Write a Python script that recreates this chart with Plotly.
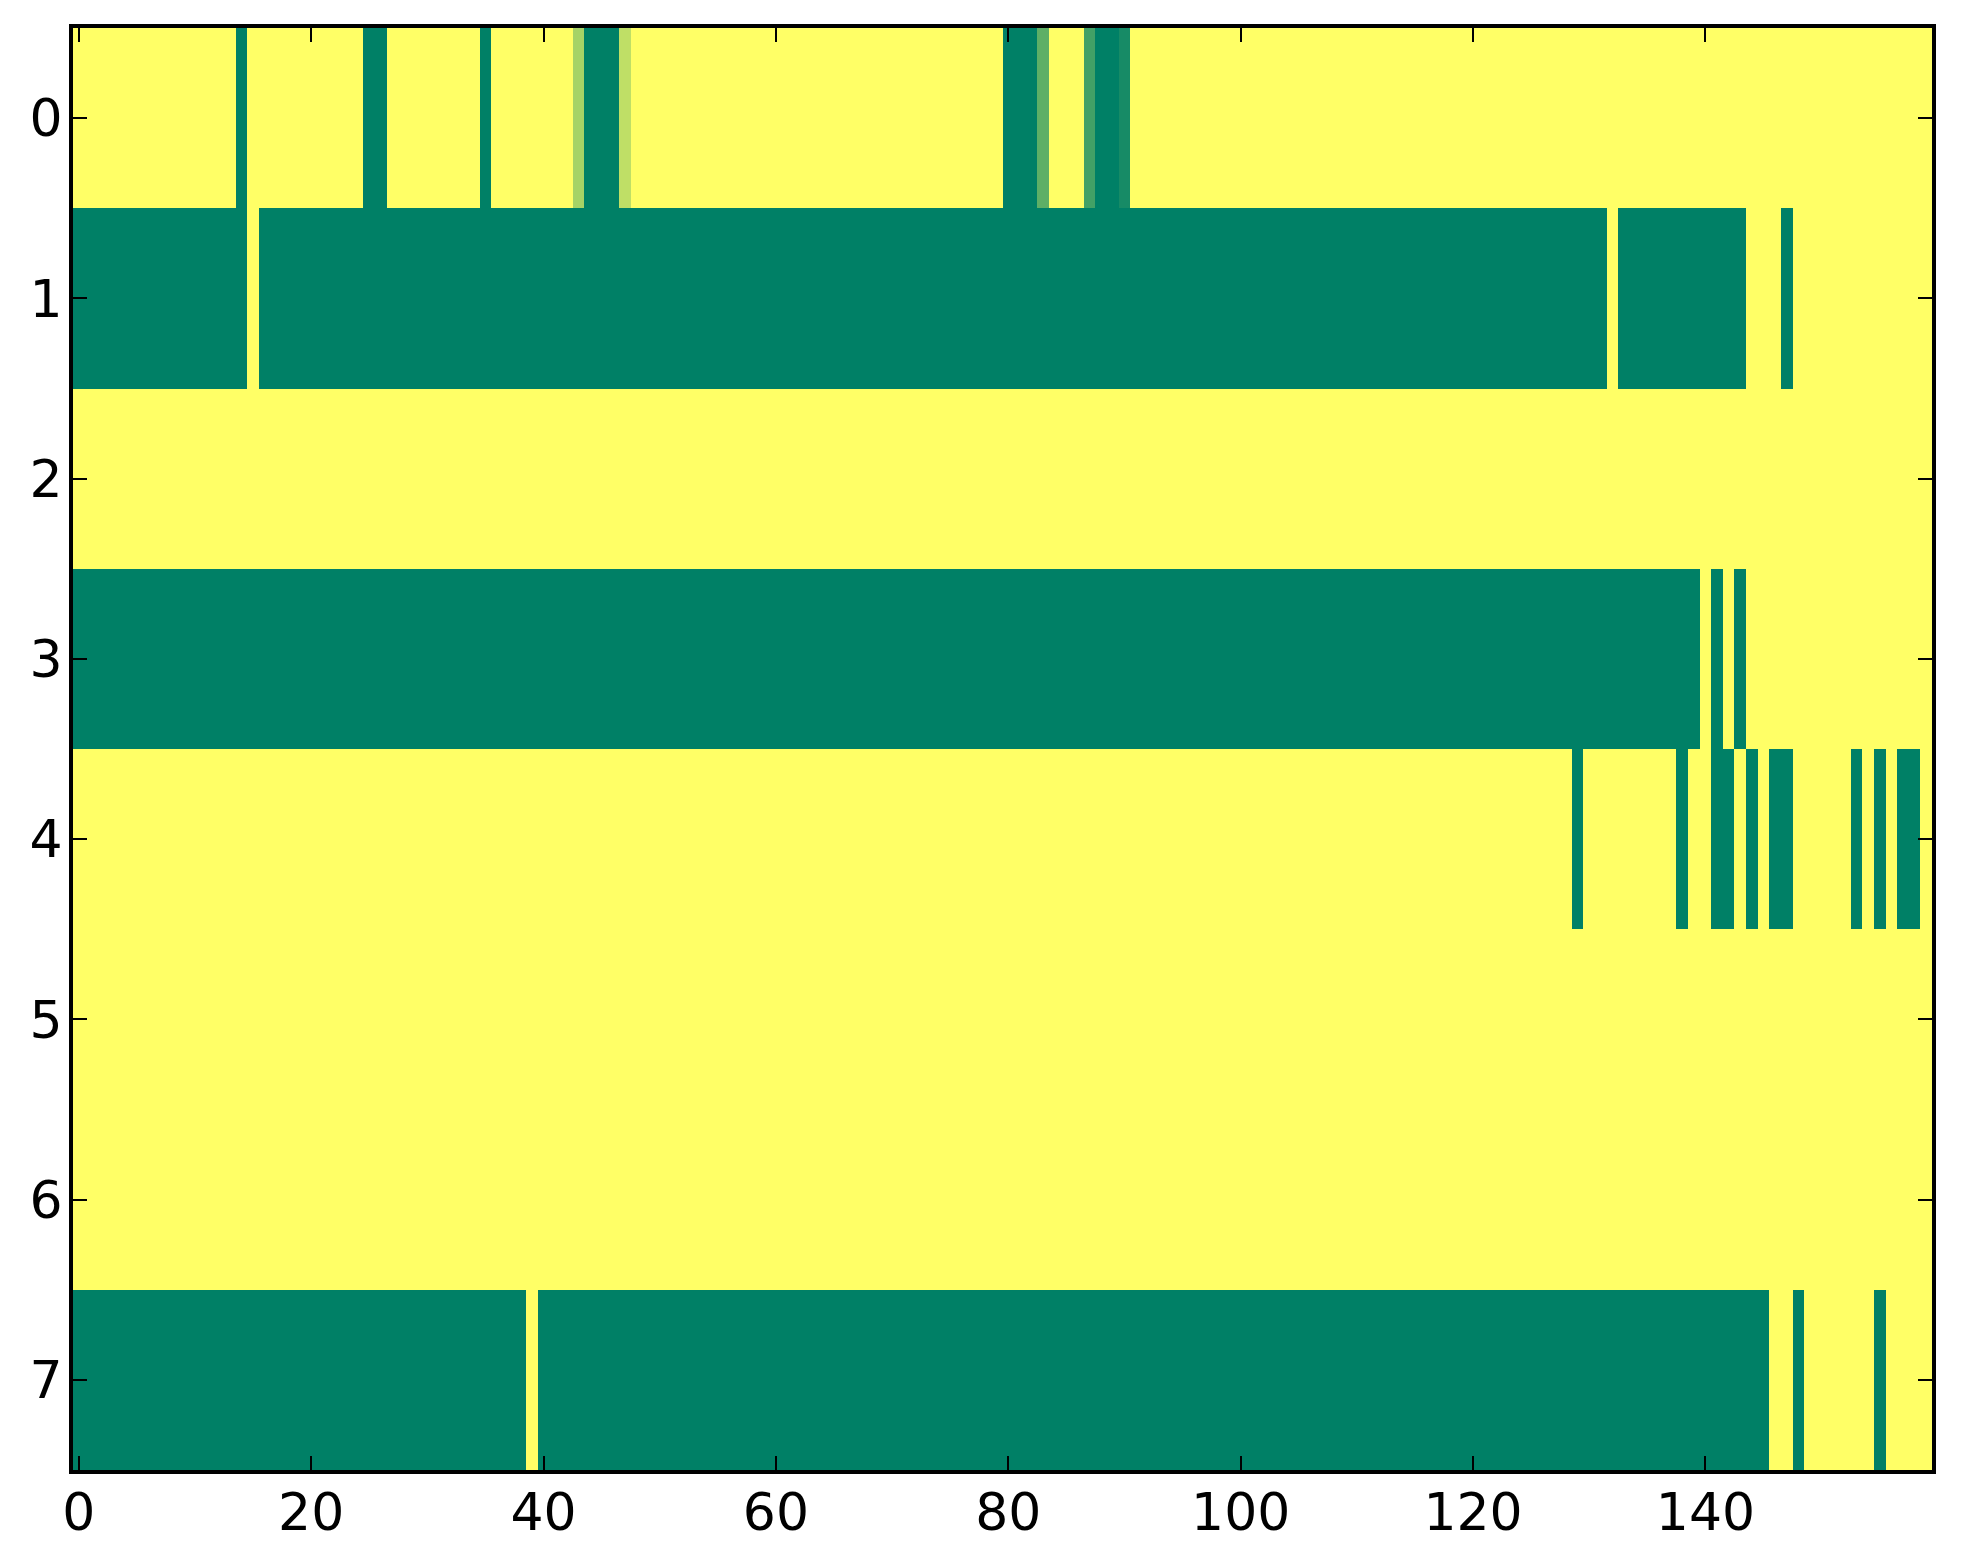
import plotly.graph_objects as go

# Column indices (0..159) and row indices (0..7)
columns = list(range(160))
row_ids = list(range(8))

# Cell values (1 = yellow, 0 = dark green), 20 values per line
row0 = [1, 1, 1, 1, 1, 1, 1, 1, 1, 1, 1, 1, 1, 1, 0, 1, 1, 1, 1, 1,
        1, 1, 1, 1, 1, 0, 0, 1, 1, 1, 1, 1, 1, 1, 1, 0, 1, 1, 1, 1,
        1, 1, 1, 0.65, 0, 0, 0, 0.75, 1, 1, 1, 1, 1, 1, 1, 1, 1, 1, 1, 1,
        1, 1, 1, 1, 1, 1, 1, 1, 1, 1, 1, 1, 1, 1, 1, 1, 1, 1, 1, 1,
        0, 0, 0, 0.37, 1, 1, 1, 0.26, 0, 0, 0.09, 1, 1, 1, 1, 1, 1, 1, 1, 1,
        1, 1, 1, 1, 1, 1, 1, 1, 1, 1, 1, 1, 1, 1, 1, 1, 1, 1, 1, 1,
        1, 1, 1, 1, 1, 1, 1, 1, 1, 1, 1, 1, 1, 1, 1, 1, 1, 1, 1, 1,
        1, 1, 1, 1, 1, 1, 1, 1, 1, 1, 1, 1, 1, 1, 1, 1, 1, 1, 1, 1]

row1 = [0, 0, 0, 0, 0, 0, 0, 0, 0, 0, 0, 0, 0, 0, 0, 1, 0, 0, 0, 0,
        0, 0, 0, 0, 0, 0, 0, 0, 0, 0, 0, 0, 0, 0, 0, 0, 0, 0, 0, 0,
        0, 0, 0, 0, 0, 0, 0, 0, 0, 0, 0, 0, 0, 0, 0, 0, 0, 0, 0, 0,
        0, 0, 0, 0, 0, 0, 0, 0, 0, 0, 0, 0, 0, 0, 0, 0, 0, 0, 0, 0,
        0, 0, 0, 0, 0, 0, 0, 0, 0, 0, 0, 0, 0, 0, 0, 0, 0, 0, 0, 0,
        0, 0, 0, 0, 0, 0, 0, 0, 0, 0, 0, 0, 0, 0, 0, 0, 0, 0, 0, 0,
        0, 0, 0, 0, 0, 0, 0, 0, 0, 0, 0, 0, 1, 0, 0, 0, 0, 0, 0, 0,
        0, 0, 0, 0, 1, 1, 1, 0, 1, 1, 1, 1, 1, 1, 1, 1, 1, 1, 1, 1]

row2 = [1, 1, 1, 1, 1, 1, 1, 1, 1, 1, 1, 1, 1, 1, 1, 1, 1, 1, 1, 1,
        1, 1, 1, 1, 1, 1, 1, 1, 1, 1, 1, 1, 1, 1, 1, 1, 1, 1, 1, 1,
        1, 1, 1, 1, 1, 1, 1, 1, 1, 1, 1, 1, 1, 1, 1, 1, 1, 1, 1, 1,
        1, 1, 1, 1, 1, 1, 1, 1, 1, 1, 1, 1, 1, 1, 1, 1, 1, 1, 1, 1,
        1, 1, 1, 1, 1, 1, 1, 1, 1, 1, 1, 1, 1, 1, 1, 1, 1, 1, 1, 1,
        1, 1, 1, 1, 1, 1, 1, 1, 1, 1, 1, 1, 1, 1, 1, 1, 1, 1, 1, 1,
        1, 1, 1, 1, 1, 1, 1, 1, 1, 1, 1, 1, 1, 1, 1, 1, 1, 1, 1, 1,
        1, 1, 1, 1, 1, 1, 1, 1, 1, 1, 1, 1, 1, 1, 1, 1, 1, 1, 1, 1]

row3 = [0, 0, 0, 0, 0, 0, 0, 0, 0, 0, 0, 0, 0, 0, 0, 0, 0, 0, 0, 0,
        0, 0, 0, 0, 0, 0, 0, 0, 0, 0, 0, 0, 0, 0, 0, 0, 0, 0, 0, 0,
        0, 0, 0, 0, 0, 0, 0, 0, 0, 0, 0, 0, 0, 0, 0, 0, 0, 0, 0, 0,
        0, 0, 0, 0, 0, 0, 0, 0, 0, 0, 0, 0, 0, 0, 0, 0, 0, 0, 0, 0,
        0, 0, 0, 0, 0, 0, 0, 0, 0, 0, 0, 0, 0, 0, 0, 0, 0, 0, 0, 0,
        0, 0, 0, 0, 0, 0, 0, 0, 0, 0, 0, 0, 0, 0, 0, 0, 0, 0, 0, 0,
        0, 0, 0, 0, 0, 0, 0, 0, 0, 0, 0, 0, 0, 0, 0, 0, 0, 0, 0, 0,
        1, 0, 1, 0, 1, 1, 1, 1, 1, 1, 1, 1, 1, 1, 1, 1, 1, 1, 1, 1]

row4 = [1, 1, 1, 1, 1, 1, 1, 1, 1, 1, 1, 1, 1, 1, 1, 1, 1, 1, 1, 1,
        1, 1, 1, 1, 1, 1, 1, 1, 1, 1, 1, 1, 1, 1, 1, 1, 1, 1, 1, 1,
        1, 1, 1, 1, 1, 1, 1, 1, 1, 1, 1, 1, 1, 1, 1, 1, 1, 1, 1, 1,
        1, 1, 1, 1, 1, 1, 1, 1, 1, 1, 1, 1, 1, 1, 1, 1, 1, 1, 1, 1,
        1, 1, 1, 1, 1, 1, 1, 1, 1, 1, 1, 1, 1, 1, 1, 1, 1, 1, 1, 1,
        1, 1, 1, 1, 1, 1, 1, 1, 1, 1, 1, 1, 1, 1, 1, 1, 1, 1, 1, 1,
        1, 1, 1, 1, 1, 1, 1, 1, 1, 0, 1, 1, 1, 1, 1, 1, 1, 1, 0, 1,
        1, 0, 0, 1, 0, 1, 0, 0, 1, 1, 1, 1, 1, 0, 1, 0, 1, 0, 0, 1]

row5 = [1, 1, 1, 1, 1, 1, 1, 1, 1, 1, 1, 1, 1, 1, 1, 1, 1, 1, 1, 1,
        1, 1, 1, 1, 1, 1, 1, 1, 1, 1, 1, 1, 1, 1, 1, 1, 1, 1, 1, 1,
        1, 1, 1, 1, 1, 1, 1, 1, 1, 1, 1, 1, 1, 1, 1, 1, 1, 1, 1, 1,
        1, 1, 1, 1, 1, 1, 1, 1, 1, 1, 1, 1, 1, 1, 1, 1, 1, 1, 1, 1,
        1, 1, 1, 1, 1, 1, 1, 1, 1, 1, 1, 1, 1, 1, 1, 1, 1, 1, 1, 1,
        1, 1, 1, 1, 1, 1, 1, 1, 1, 1, 1, 1, 1, 1, 1, 1, 1, 1, 1, 1,
        1, 1, 1, 1, 1, 1, 1, 1, 1, 1, 1, 1, 1, 1, 1, 1, 1, 1, 1, 1,
        1, 1, 1, 1, 1, 1, 1, 1, 1, 1, 1, 1, 1, 1, 1, 1, 1, 1, 1, 1]

row6 = [1, 1, 1, 1, 1, 1, 1, 1, 1, 1, 1, 1, 1, 1, 1, 1, 1, 1, 1, 1,
        1, 1, 1, 1, 1, 1, 1, 1, 1, 1, 1, 1, 1, 1, 1, 1, 1, 1, 1, 1,
        1, 1, 1, 1, 1, 1, 1, 1, 1, 1, 1, 1, 1, 1, 1, 1, 1, 1, 1, 1,
        1, 1, 1, 1, 1, 1, 1, 1, 1, 1, 1, 1, 1, 1, 1, 1, 1, 1, 1, 1,
        1, 1, 1, 1, 1, 1, 1, 1, 1, 1, 1, 1, 1, 1, 1, 1, 1, 1, 1, 1,
        1, 1, 1, 1, 1, 1, 1, 1, 1, 1, 1, 1, 1, 1, 1, 1, 1, 1, 1, 1,
        1, 1, 1, 1, 1, 1, 1, 1, 1, 1, 1, 1, 1, 1, 1, 1, 1, 1, 1, 1,
        1, 1, 1, 1, 1, 1, 1, 1, 1, 1, 1, 1, 1, 1, 1, 1, 1, 1, 1, 1]

row7 = [0, 0, 0, 0, 0, 0, 0, 0, 0, 0, 0, 0, 0, 0, 0, 0, 0, 0, 0, 0,
        0, 0, 0, 0, 0, 0, 0, 0, 0, 0, 0, 0, 0, 0, 0, 0, 0, 0, 0, 1,
        0, 0, 0, 0, 0, 0, 0, 0, 0, 0, 0, 0, 0, 0, 0, 0, 0, 0, 0, 0,
        0, 0, 0, 0, 0, 0, 0, 0, 0, 0, 0, 0, 0, 0, 0, 0, 0, 0, 0, 0,
        0, 0, 0, 0, 0, 0, 0, 0, 0, 0, 0, 0, 0, 0, 0, 0, 0, 0, 0, 0,
        0, 0, 0, 0, 0, 0, 0, 0, 0, 0, 0, 0, 0, 0, 0, 0, 0, 0, 0, 0,
        0, 0, 0, 0, 0, 0, 0, 0, 0, 0, 0, 0, 0, 0, 0, 0, 0, 0, 0, 0,
        0, 0, 0, 0, 0, 0, 1, 1, 0, 1, 1, 1, 1, 1, 1, 0, 1, 1, 1, 1]

x_tick_vals = [0, 20, 40, 60, 80, 100, 120, 140]
y_tick_vals = [0, 1, 2, 3, 4, 5, 6, 7]

z = [row0, row1, row2, row3, row4, row5, row6, row7]

# matplotlib "summer" colormap (linear in RGB)
summer = [[0.0, "rgb(0,128,102)"], [1.0, "rgb(255,255,102)"]]

fig = go.Figure(
    go.Heatmap(
        z=z, x=columns, y=row_ids,
        colorscale=summer, zmin=0, zmax=1,
        showscale=False, hoverongaps=False,
    )
)

axis_common = dict(
    showgrid=False, zeroline=False,
    showline=True, linecolor="black", linewidth=4, mirror="allticks",
    ticks="inside", ticklen=14, tickwidth=2, tickcolor="black",
    tickfont=dict(family="DejaVu Sans", size=52, color="black"),
)

fig.update_xaxes(range=[-0.5, 159.5], tickmode="array", tickvals=x_tick_vals,
                 ticktext=[str(v) for v in x_tick_vals], ticklabelstandoff=-6,
                 **axis_common)
fig.update_yaxes(range=[7.5, -0.5], tickmode="array", tickvals=y_tick_vals,
                 ticktext=[str(v) for v in y_tick_vals], ticklabelstandoff=-4,
                 **axis_common)

# the page body adds an 8 px margin, so the figure is sized and placed to compensate
fig.update_layout(
    width=1955, height=1556,
    margin=dict(l=65, r=31, t=20, b=94, pad=0),
    paper_bgcolor="white", plot_bgcolor="white",
)

fig.write_html("out.html")
